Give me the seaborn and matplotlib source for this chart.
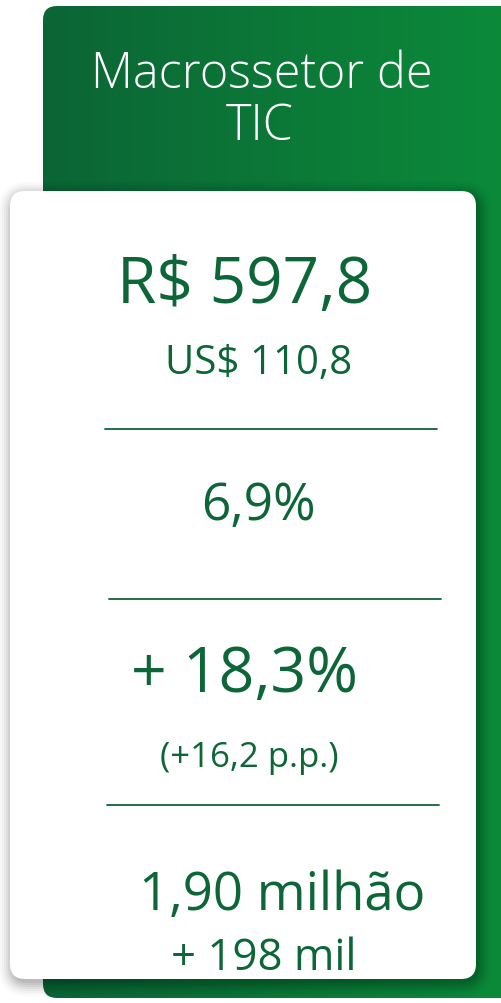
import numpy as np
import matplotlib
matplotlib.use("Agg")
import matplotlib.pyplot as plt
import seaborn as sns
from matplotlib.patches import FancyBboxPatch

sns.set_theme(style="white")
plt.rcParams['font.family'] = ['Open Sans', 'DejaVu Sans']

# card content
title_lines = ["Macrossetor de", "TIC"]
main_values = ["R$ 597,8", "6,9%", "+ 18,3%", "1,90 milhão"]
sub_values = ["US$ 110,8", None, "(+16,2 p.p.)", "+ 198 mil"]

DARK = "#0c6638"
GREEN_L = "#0b6535"
GREEN_R = "#0c8a3a"

fig = plt.figure(figsize=(5.02, 10.04), dpi=100)
ax = fig.add_axes([0, 0, 1, 1])
ax.set_xlim(0, 502)
ax.set_ylim(1004, 0)
ax.axis("off")

# green header card with horizontal gradient
green = FancyBboxPatch((43, 7), 480, 992, boxstyle="round,pad=0,rounding_size=14",
                       linewidth=0, facecolor="none")
ax.add_patch(green)
grad = np.linspace(0, 1, 256).reshape(1, -1)
cmap = matplotlib.colors.LinearSegmentedColormap.from_list("g", [GREEN_L, GREEN_R])
im = ax.imshow(grad, extent=(43, 502, 1004, 7), cmap=cmap, aspect="auto", zorder=1)
im.set_clip_path(green)

# soft shadow of white card
for i, a in enumerate(np.linspace(0.06, 0.012, 8)):
    s = 2 + i * 2
    sh = FancyBboxPatch((10 - s + 4, 192 - s + 6), 466 + 2 * s - 4, 788 + 2 * s - 4,
                        boxstyle="round,pad=0,rounding_size=%d" % (15 + s),
                        linewidth=0, facecolor="black", alpha=a, zorder=2)
    ax.add_patch(sh)

card = FancyBboxPatch((10, 192), 466, 788, boxstyle="round,pad=0,rounding_size=15",
                      linewidth=0, facecolor="white", zorder=3)
ax.add_patch(card)

# title
ax.text(262, 88, title_lines[0], color="white", fontsize=35, fontweight="light",
        ha="center", va="baseline", zorder=4)
ax.text(260, 140, title_lines[1], color="white", fontsize=35, fontweight="light",
        ha="center", va="baseline", zorder=4)

# values
main_pos = [(245, 303, 46), (258, 520, 37), (245, 692, 45), (282, 910, 38)]
sub_pos = [(259, 374, 29), None, (249, 767, 25), (264, 970, 31.5)]
for v, p in zip(main_values, main_pos):
    ax.text(p[0], p[1], v, color=DARK, fontsize=p[2], ha="center", va="baseline", zorder=4)
for v, p in zip(sub_values, sub_pos):
    if v is None:
        continue
    ax.text(p[0], p[1], v, color=DARK, fontsize=p[2], ha="center", va="baseline", zorder=4)

# separators
for y, x0, x1 in [(430, 105, 437), (600, 109, 441), (806, 107, 439)]:
    ax.plot([x0, x1], [y, y], color=DARK, lw=1.3, zorder=4)

fig.savefig("out.png", dpi=100, facecolor="white")
